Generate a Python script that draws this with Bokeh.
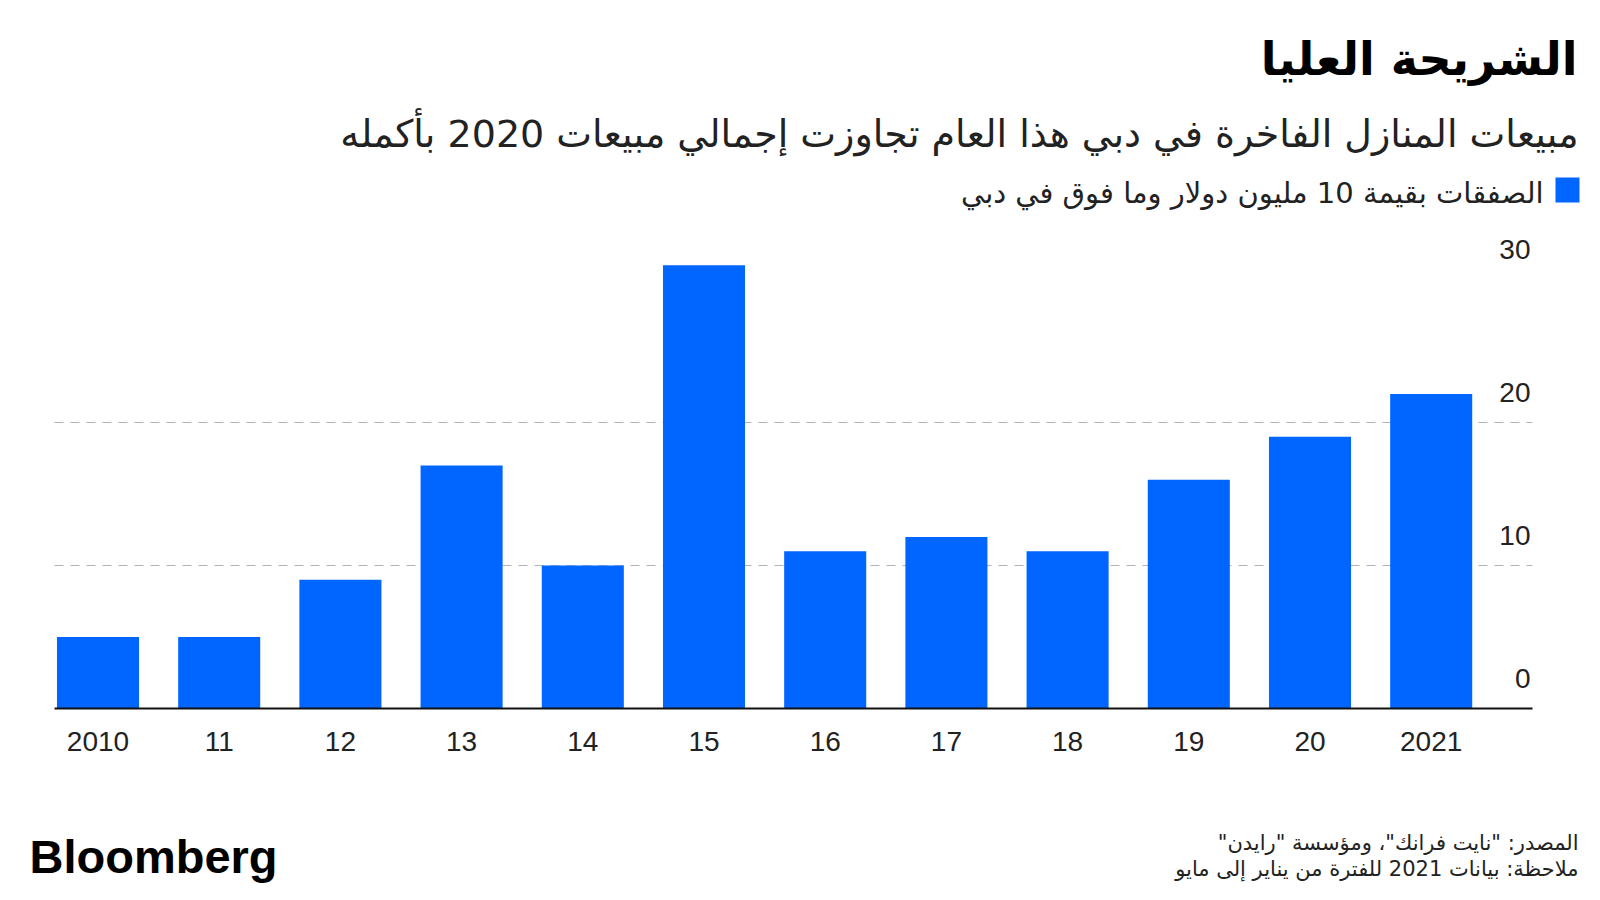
from bokeh.plotting import figure
from bokeh.layouts import column
from bokeh.models import Range1d, FixedTicker, ColumnDataSource
from bokeh.core.properties import value
from bokeh.embed import file_html
from bokeh.resources import INLINE

# ---- data ----
years = ["2010", "11", "12", "13", "14", "15", "16", "17", "18", "19", "20", "2021"]
deals = [5, 5, 9, 17, 10, 31, 11, 12, 11, 16, 19, 22]
y_ticks = [0, 10, 20, 30]
grid_values = [10, 20]
title_text = "الشريحة العليا"
subtitle_text = "مبيعات المنازل الفاخرة في دبي هذا العام تجاوزت إجمالي مبيعات 2020 بأكمله"
legend_text = "الصفقات بقيمة 10 مليون دولار وما فوق في دبي"
source_text = 'المصدر: "نايت فرانك"، ومؤسسة "رايدن"\u200f'
note_text = "ملاحظة: بيانات 2021 للفترة من يناير إلى مايو"
brand_text = "Bloomberg"

# ---- layout constants ----
W = 1600
HEAD_H, FOOT_H = 224, 100
MAIN_H = 900 - HEAD_H - FOOT_H
FL, FR, FT, FB = 54, 1532, 232, 708          # visible chart area (page px)
PX_X = 121.2                                   # px per category
PX_Y = 14.3                                    # px per unit
X0 = -(97.5 - FL) / PX_X                       # data x at chart left edge
X1 = X0 + (FR - FL) / PX_X                     # data x at chart right edge
XA = X0 - FL / PX_X                            # data x at page left
XB = X1 + (W - FR) / PX_X                      # data x at page right
Y1 = (FB - FT) / PX_Y
K = 0.36                                       # baseline correction (em)

BLUE = "#0066ff"
AR_FONT = "DejaVu Sans"
NUM_FONT = "Liberation Sans"


def blank(h):
    f = figure(width=W, height=h, output_backend="svg", toolbar_location=None,
               x_range=Range1d(0, W), y_range=Range1d(h, 0),
               x_axis_location=None, y_axis_location=None, min_border=0)
    f.outline_line_color = None
    f.xgrid.visible = False
    f.ygrid.visible = False
    return f


def txt(f, text, X, Y, size, font, style="normal", align="right", color="#111111"):
    f.text(x=[X], y=[Y - K * size], text=[text], text_align=align,
           text_baseline="alphabetic", text_font=value(font),
           text_font_size=f"{size}px", text_font_style=style, text_color=color)


# ---- header ----
head = blank(HEAD_H)
txt(head, title_text, 1577, 75, 46, AR_FONT, "bold", color="#000000")
txt(head, subtitle_text, 1578, 147, 38, AR_FONT, color="#222222")
txt(head, legend_text, 1543, 203, 29, AR_FONT, color="#222222")
head.quad(left=[1555], right=[1579], top=[177], bottom=[202],
          fill_color=BLUE, line_color=None)

# ---- main chart ----
p = figure(width=W, height=MAIN_H, output_backend="svg", toolbar_location=None,
           x_range=Range1d(XA, XB), y_range=Range1d(0, Y1),
           y_axis_location=None,
           min_border_left=0, min_border_right=0,
           min_border_top=FT - HEAD_H, min_border_bottom=(HEAD_H + MAIN_H) - FB)
p.outline_line_color = None
p.xgrid.visible = False
p.ygrid.visible = False

# dashed grid lines
p.segment(x0=[X0] * len(grid_values), x1=[X1] * len(grid_values),
          y0=grid_values, y1=grid_values,
          line_color="#b3b3b3", line_dash="9 7", line_width=1)

idx = list(range(len(years)))
src = ColumnDataSource(dict(x=idx, top=deals))
p.vbar(x="x", top="top", width=0.677, bottom=0, source=src,
       fill_color=BLUE, line_color=None)

ax = p.xaxis[0]
ax.bounds = (X0, X1)
ax.ticker = FixedTicker(ticks=idx)
ax.major_label_overrides = {i: lab for i, lab in zip(idx, years)}
ax.axis_line_color = "#111111"
ax.axis_line_width = 2
ax.major_tick_line_color = None
ax.minor_tick_line_color = None
ax.major_label_standoff = 17
ax.major_label_text_font = NUM_FONT
ax.major_label_text_font_size = "28px"
ax.major_label_text_color = "#222222"

# y tick labels, right-aligned above the grid lines
ysrc = ColumnDataSource(dict(x=[X1] * len(y_ticks), y=y_ticks, t=[str(v) for v in y_ticks]))
p.text(x="x", y="y", text="t", source=ysrc, x_offset=-2, y_offset=-20 - K * 28,
       text_align="right", text_baseline="alphabetic",
       text_font=value(NUM_FONT), text_font_size="28px", text_color="#222222")

# ---- footer ----
foot = blank(FOOT_H)
txt(foot, brand_text, 29, 73, 47, NUM_FONT, "bold", align="left", color="#000000")
txt(foot, source_text, 1578, 50, 21, AR_FONT, color="#222222")
txt(foot, note_text, 1578, 76, 21, AR_FONT, color="#222222")

layout = column(head, p, foot, spacing=0)
open("out.html", "w").write(file_html(layout, INLINE))
